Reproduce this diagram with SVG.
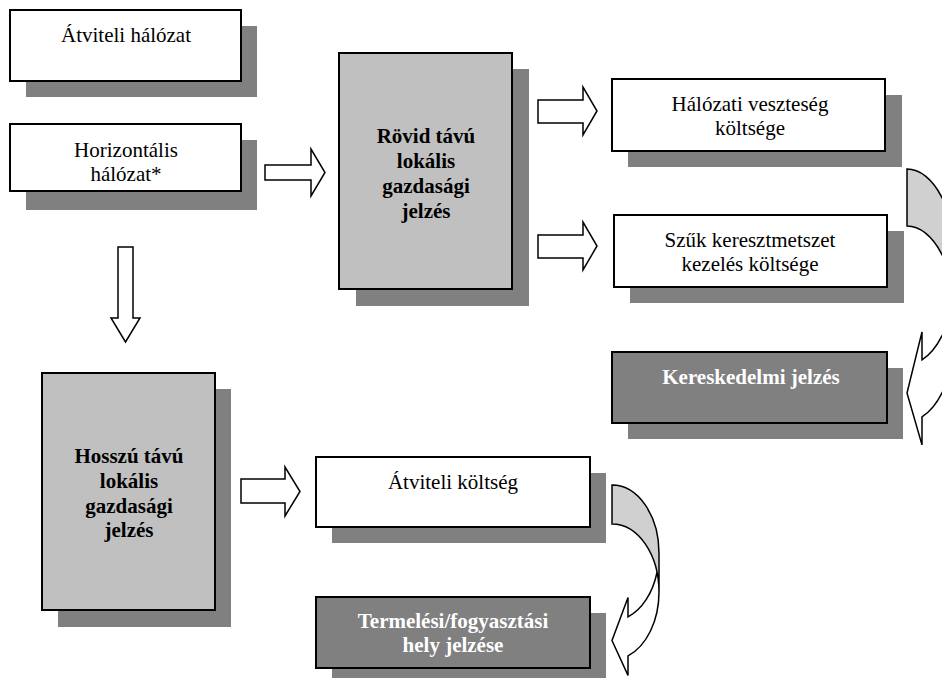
<svg xmlns="http://www.w3.org/2000/svg" width="942" height="678" viewBox="0 0 942 678">
<style>
.sh{fill:#808080;stroke:none}
.bx{stroke:#000;stroke-width:2}
.w{fill:#fff}
.lg{fill:#c0c0c0}
.dg{fill:#808080}
.t{font-family:"Liberation Serif","Times New Roman",serif;font-size:21px;text-anchor:middle;fill:#000}
.b{font-weight:bold}
.wt{fill:#fff}
.ar{fill:#fff;stroke:#000;stroke-width:1.5;stroke-linejoin:miter}
.back{fill:#d0d0d0;stroke:none}
.front{fill:#fff;stroke:none}
.ol{fill:none;stroke:#000;stroke-width:1.5}
</style>
<rect width="942" height="678" fill="#fff"/>
<g id="n-atviteli-halozat">
<rect class="sh" x="26" y="26" width="231" height="71"/>
<rect class="bx w" x="10" y="10" width="231" height="71"/>
<text class="t" x="126" y="42">Átviteli hálózat</text>
</g>
<g id="n-horizontalis">
<rect class="sh" x="26" y="140" width="231" height="70"/>
<rect class="bx w" x="10" y="124" width="231" height="67"/>
<text class="t" x="126" y="157">Horizontális</text>
<text class="t" x="126" y="181">hálózat*</text>
</g>
<g id="n-rovid">
<rect class="sh" x="356" y="69" width="173" height="237"/>
<rect class="bx lg" x="339" y="53" width="173" height="236"/>
<text class="t b" x="426" y="143">Rövid távú</text>
<text class="t b" x="426" y="168">lokális</text>
<text class="t b" x="426" y="193">gazdasági</text>
<text class="t b" x="426" y="218">jelzés</text>
</g>
<g id="n-halozati-veszteseg">
<rect class="sh" x="628" y="95" width="274" height="72"/>
<rect class="bx w" x="612" y="79" width="273" height="72"/>
<text class="t" x="750" y="111">Hálózati veszteség</text>
<text class="t" x="750" y="135">költsége</text>
</g>
<g id="n-szuk">
<rect class="sh" x="630" y="231" width="274" height="72"/>
<rect class="bx w" x="614" y="215" width="273" height="72"/>
<text class="t" x="750" y="247">Szűk keresztmetszet</text>
<text class="t" x="750" y="271">kezelés költsége</text>
</g>
<g id="n-kereskedelmi">
<rect class="sh" x="628" y="368" width="275" height="71"/>
<rect class="bx dg" x="612" y="352" width="275" height="71"/>
<text class="t b wt" x="751" y="384">Kereskedelmi jelzés</text>
</g>
<g id="n-hosszu">
<rect class="sh" x="58" y="389" width="173" height="238"/>
<rect class="bx lg" x="42" y="373" width="173" height="237"/>
<text class="t b" x="129" y="463">Hosszú távú</text>
<text class="t b" x="129" y="488">lokális</text>
<text class="t b" x="129" y="513">gazdasági</text>
<text class="t b" x="129" y="537">jelzés</text>
</g>
<g id="n-atviteli-koltseg">
<rect class="sh" x="332" y="473" width="274" height="70"/>
<rect class="bx w" x="316" y="457" width="274" height="70"/>
<text class="t" x="453" y="489">Átviteli költség</text>
</g>
<g id="n-termelesi">
<rect class="sh" x="332" y="613" width="274" height="71"/>
<rect class="bx dg" x="316" y="597" width="274" height="71"/>
<text class="t b wt" x="453" y="628">Termelési/fogyasztási</text>
<text class="t b wt" x="453" y="652">hely jelzése</text>
</g>
<g id="connectors">
<polygon class="ar" points="265,165 311,165 311,149 325,172.5 311,196 311,180 265,180"/>
<polygon class="ar" points="538,100 583,100 583,87 597,111 583,135 583,123 538,123"/>
<polygon class="ar" points="538,235 583,235 583,222 597,246 583,270 583,258 538,258"/>
<polygon class="ar" points="118,247 133,247 133,318 140,318 125.5,342 111,318 118,318"/>
<polygon class="ar" points="241,479 285,479 285,467 300,491.5 285,516 285,503 241,503"/>
<g id="curved-upper">
<path class="front" d="M 907 393 L 922 331.9 L 922 359.9 A 49.5 97.75 0 0 0 954.35 295.25 A 49.5 97.75 0 0 1 922 416.9 L 922 444.9 Z"/>
<path class="back" d="M 956.5 323.75 A 49.5 97.75 0 0 0 907 226 L 907 169 A 49.5 97.75 0 0 1 956.5 266.75 Z"/>
<path class="ol" d="M 956.5 323.75 A 49.5 97.75 0 0 0 907 226 L 907 169 A 49.5 97.75 0 0 1 956.5 266.75 L 956.5 323.75 A 49.5 97.75 0 0 1 922 416.9 L 922 444.9 L 907 393 L 922 331.9 L 922 359.9 A 49.5 97.75 0 0 0 954.35 295.25"/>
</g>
<g id="curved-lower">
<path class="front" d="M 612 640.5 L 628 597.4 L 628 616.9 A 47 68 0 0 0 657 572.5 A 47 68 0 0 1 628 655.9 L 628 675.4 Z"/>
<path class="back" d="M 659 592 A 47 68 0 0 0 612 524 L 612 485 A 47 68 0 0 1 659 553 Z"/>
<path class="ol" d="M 659 592 A 47 68 0 0 0 612 524 L 612 485 A 47 68 0 0 1 659 553 L 659 592 A 47 68 0 0 1 628 655.9 L 628 675.4 L 612 640.5 L 628 597.4 L 628 616.9 A 47 68 0 0 0 657 572.5"/>
</g>
</g>
</svg>
